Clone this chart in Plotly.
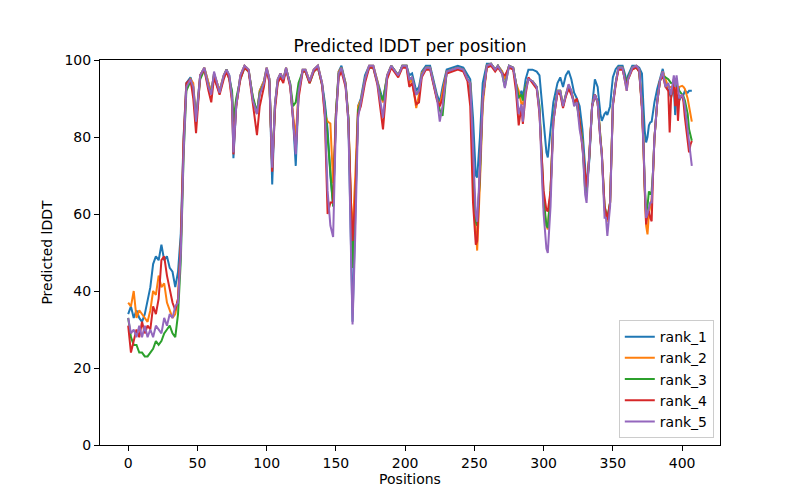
import plotly.graph_objects as go

positions = [
    0, 2, 4, 6, 8, 10, 12, 14, 16, 18, 20, 22, 24, 26, 28, 30, 32, 34, 36, 38, 40, 42,
    45, 47, 49, 52, 55, 58, 60, 62, 64, 66, 69, 71, 73, 75, 76, 78, 81, 84, 87, 90, 93, 95, 98, 100,
    102, 104, 106, 108, 110, 112, 114, 117, 119, 121, 123, 126, 128, 131, 134, 137, 140, 142, 144, 146, 148, 150, 152, 154,
    157, 159, 161, 162, 164, 166, 168, 171, 174, 177, 180, 182, 184, 187, 190, 193, 195, 198,
    201, 203, 205, 208, 210, 212, 215, 218, 221, 223, 225, 227, 230, 234, 238, 242, 245, 247, 249, 251, 252, 254, 256,
    259, 262, 265, 267, 270, 272, 275, 278, 280, 282, 284, 285, 287, 289, 292, 295, 297, 299, 300, 302, 303, 305,
    307, 310, 312, 314, 316, 318, 320, 322, 324, 326, 328, 330, 331, 333, 335, 337, 339, 341, 342, 344, 345, 346, 348, 349, 350,
    352, 354, 357, 359, 360, 361, 364, 367, 369, 371, 372, 373, 374, 375, 376, 377, 378, 379, 380, 382, 384, 386, 388, 390,
    391, 392, 394, 395, 396, 397, 398, 400, 401, 402, 404, 405, 406, 407,
]

rank_1 = [
    34, 36, 33, 35, 33, 32, 34, 38, 41, 47, 49, 48, 52, 48, 49, 46, 45, 41, 45, 55, 80, 94,
    95.5, 93, 85, 96, 98, 94, 91.5, 96.5, 94, 92, 96, 97.5, 96, 91, 74.5, 88, 96, 98.5, 97.5, 90, 86, 92, 94.5, 98,
    95, 67.7, 88.5, 95, 96.5, 94.6, 98, 93.5, 85, 72.5, 91, 97.5, 97.5, 94.5, 97.5, 98.5, 94, 89, 82, 70, 62, 86, 97, 98.5,
    94, 85, 50, 32, 60, 88, 90, 96, 98.5, 98.5, 94.5, 92, 89.5, 96, 98.5, 97, 96, 98.5,
    98.5, 96, 96.5, 92, 93, 97, 98.5, 98.5, 94, 91, 89, 93, 97.5, 98, 98.5, 98, 96, 95, 85, 70, 69.5, 80, 94,
    99, 99, 97.5, 98.5, 97, 95, 98.5, 98, 94, 90, 92, 90, 95, 97.5, 97.5, 97, 96, 89, 84, 76, 74.7, 82,
    89, 94, 95.5, 93, 96, 97.2, 95, 91.5, 90, 88, 82, 72, 66.5, 74, 88, 95, 93, 86, 84.2, 86, 86.4, 85.7, 88, 92, 95.5,
    97.6, 98.5, 98.5, 96, 94, 96, 98.5, 98.5, 98, 96.5, 88.5, 81.6, 78.6, 80, 83, 83.8, 84, 86.8, 89, 92.5, 95.5, 97.7, 94, 92,
    91, 90.3, 93, 85.7, 91, 90, 89.5, 91, 91, 92, 91.5, 92, 92, 92,
]

rank_2 = [
    37, 36, 40, 33, 35, 34, 33, 32, 35, 40, 39, 44, 41, 42, 37, 35, 33, 34, 38, 52, 78, 93,
    95, 94, 84, 96, 98, 94, 91.5, 96.5, 94, 92, 96, 97.5, 95.5, 90, 80, 88, 96, 98.5, 97.5, 90, 86, 92, 94.5, 98,
    95, 72, 88.5, 95, 96.5, 95, 98, 93.5, 86, 80, 92, 97.5, 97.5, 94.5, 97.5, 98.5, 94, 86, 84, 83.5, 68, 86, 97, 98,
    94, 85, 62, 55, 70, 88, 89.5, 95, 98.5, 98.5, 94.5, 91, 89, 96, 98.5, 97, 96, 98.5,
    98.5, 94, 95, 87.5, 91, 96.5, 98, 98, 93.5, 90, 88, 92, 97, 97.5, 98, 97.5, 95, 94, 70, 56, 50.5, 68, 88,
    98.5, 99, 97.5, 98.5, 97, 95, 98.5, 98, 94, 92, 88.5, 88.5, 93, 95, 94.5, 93, 87, 70, 62, 57, 56, 66,
    84, 92, 92, 88, 91, 93.5, 92, 89, 89, 84, 79, 68, 65, 76, 88, 91, 89, 80, 75.5, 61, 59, 58, 63, 75, 88.5,
    94, 98, 98, 94, 92, 95, 98, 98.5, 97.5, 88, 79, 67, 57, 54.7, 60, 62, 64, 71, 79.6, 89, 94.6, 97, 95, 93,
    93, 93, 93, 92, 92, 92, 93, 93.3, 93, 92.5, 90, 88, 86, 84,
]

rank_3 = [
    33, 28, 26, 26, 24, 24, 23, 23, 24, 25, 27, 26, 27, 29, 30, 31, 29, 28, 34, 48, 75, 92,
    94.5, 92, 84, 95, 97.5, 93, 91.5, 96, 93.5, 91.5, 95.5, 97.5, 95, 92, 84, 90, 95, 98, 97, 90.5, 86.5, 91.5, 94, 97.5,
    94.5, 72.5, 88, 94.5, 96, 95, 97.5, 94, 88, 89, 94, 97, 97, 94, 97, 98, 93.5, 88, 80, 70, 62, 86, 96.5, 98,
    93.5, 85, 60, 46, 62, 87, 89, 95, 98, 98, 94, 91, 89.5, 95.5, 98.5, 97, 96, 98.5,
    98.5, 95, 95.5, 91, 92, 96, 98, 98, 93.5, 90, 87, 85.5, 97, 97.5, 98, 97.5, 95, 94, 72, 58, 57, 70, 90,
    98.5, 99, 97.5, 98.5, 96.5, 93, 98.5, 98, 94, 90.3, 91, 89.5, 93, 95, 94.5, 93, 88, 72, 64, 57, 56.4, 66,
    85, 92, 92, 88, 91, 93, 91.5, 89, 88.5, 84, 79, 66, 65, 75, 88, 91, 89, 80, 75.5, 62, 60, 59, 63, 75, 88.5,
    94, 98, 98, 95, 93.7, 95.5, 98, 98, 97, 88, 80, 67, 60, 62, 65.9, 65, 66, 71, 79.6, 89, 94.6, 96, 95.5, 95,
    94.5, 94, 94, 94, 93, 93, 92, 91, 90.5, 89.5, 86, 82, 80, 79,
]

rank_4 = [
    31, 24, 27, 30, 28, 32, 29, 31, 30, 36, 34, 38, 48, 49, 44, 40, 37, 35, 38, 52, 79, 94,
    95, 90, 81, 96, 97.5, 92, 89, 95.5, 93, 91, 95, 97, 95, 89, 75.5, 88, 95, 98, 97, 89, 80.5, 88, 93, 97.5,
    94, 71, 87, 94, 95.5, 94, 97.5, 93, 84, 76.5, 90, 97, 97, 94, 97, 98, 93.5, 85, 60, 63, 63, 85, 95.5, 97,
    93, 84, 62, 53, 64, 86, 88, 94, 98, 98, 93.5, 88, 82, 95, 98, 96.5, 95.5, 98,
    98, 93, 94, 88.5, 89, 95.5, 97.5, 97.5, 93, 89.5, 88, 90, 96.5, 97, 97.5, 97, 94.5, 88, 63, 52, 53, 72, 90,
    98, 98.5, 97, 98, 96.5, 96, 98, 97.5, 92, 83, 88, 83.4, 91, 95.5, 94, 92.5, 86, 72, 66, 61, 60.7, 66,
    84, 91.5, 91, 87.5, 90.5, 92.5, 91, 89, 90, 84, 77, 70, 67, 75, 88, 91, 89, 79, 76, 62, 60.5, 58.5, 63, 75, 88,
    93.5, 97.5, 97.5, 94.5, 93, 95, 97.5, 98, 97, 87, 79, 66, 57.3, 60, 60.7, 59, 58.1, 70, 79.6, 89, 94.6, 96, 93, 92,
    81.2, 90, 95, 88, 93, 84.2, 90, 91, 89, 85, 78, 76, 78, 79,
]

rank_5 = [
    33, 29, 30, 28, 31, 28, 31, 28, 30, 28, 31, 30, 29, 33, 31, 34, 33, 36, 37, 50, 76, 93,
    95, 93, 84, 96, 98, 93, 91, 97, 94, 91.5, 96, 97.5, 96, 90, 76, 88, 96, 98.5, 97.5, 89.5, 86, 91, 94, 98,
    95, 72, 88.5, 95, 96.5, 95, 98, 93.5, 85, 75.5, 91.5, 97.5, 97.5, 94.5, 97.5, 98.5, 94, 87, 66, 57, 54, 84, 96.5, 98,
    93.5, 84, 48, 31.3, 55, 85, 89, 95, 98.5, 98.5, 94, 90, 85, 96, 98.5, 97, 96, 98.5,
    98.5, 95, 95.5, 91, 92, 96, 98, 98, 93.5, 90, 84, 88, 97, 97.5, 98, 97.5, 95, 94, 75, 60, 58, 72, 90,
    98.5, 99, 97.5, 98.5, 96.5, 92.7, 98.5, 98, 94, 86, 88.5, 84, 92, 95, 94.5, 93, 86.5, 68, 60, 51, 49.9, 62,
    84, 92, 92, 88, 91, 93.7, 92, 88, 89, 82, 78, 65, 62.9, 74, 88, 91, 89, 79, 75.5, 59, 59, 54.3, 62, 75, 88.5,
    94, 98, 98, 93.5, 92, 95, 98, 98.5, 97.5, 88, 79.6, 67, 59, 60, 62, 63, 63, 71, 79.6, 89, 94.6, 97, 93, 94,
    92, 91, 96, 93, 96, 93, 90, 91, 90, 88, 82, 78, 75, 72.5,
]

series_names = ["rank_1", "rank_2", "rank_3", "rank_4", "rank_5"]
series_values = [rank_1, rank_2, rank_3, rank_4, rank_5]
colors = ["#1f77b4", "#ff7f0e", "#2ca02c", "#d62728", "#9467bd"]
x_ticks = [0, 50, 100, 150, 200, 250, 300, 350, 400]
y_ticks = [0, 20, 40, 60, 80, 100]

fig = go.Figure()
for name, vals, col in zip(series_names, series_values, colors):
    n = min(len(positions), len(vals))
    fig.add_trace(go.Scatter(x=positions[:n], y=vals[:n], mode="lines", name=name,
                             line=dict(color=col, width=2)))

last = positions[-1]
fig.update_layout(
    width=792, height=492,
    margin=dict(l=92, r=80, t=52, b=55, autoexpand=False),
    plot_bgcolor="white", paper_bgcolor="white",
    font=dict(family="DejaVu Sans", size=14, color="black"),
    title=dict(text="Predicted lDDT per position", x=0.5, xref="paper", xanchor="center",
               y=1 - 38 / 492, yref="container", yanchor="middle", font=dict(size=17)),
    showlegend=True,
    legend=dict(x=0.99, y=0.018, xanchor="right", yanchor="bottom",
                bgcolor="rgba(255,255,255,0.8)", bordercolor="#cccccc", borderwidth=1,
                font=dict(size=14), tracegroupgap=0),
)
fig.update_xaxes(range=[-0.05 * last, 1.05 * last], tickvals=x_ticks, ticks="outside", ticklen=5,
                 tickcolor="black", showline=True, mirror=True, linecolor="black", linewidth=1,
                 showgrid=False, zeroline=False, automargin=False, tickfont=dict(size=14),
                 title=dict(text="Positions", standoff=4, font=dict(size=14)))
fig.update_yaxes(range=[0, 100], tickvals=y_ticks, ticks="outside", ticklen=5,
                 tickcolor="black", showline=True, mirror=True, linecolor="black", linewidth=1,
                 showgrid=False, zeroline=False, automargin=False, tickfont=dict(size=14),
                 title=dict(text="Predicted lDDT", standoff=8, font=dict(size=14)))

fig.write_html("out.html")
